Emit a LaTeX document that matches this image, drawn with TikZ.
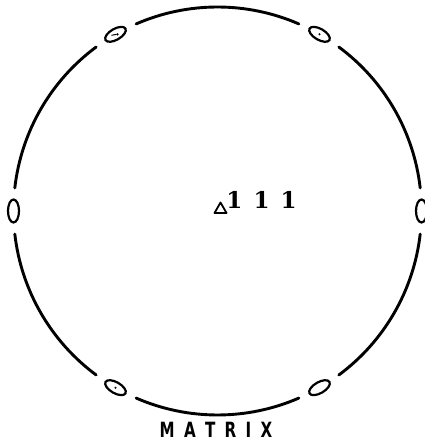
\documentclass[tikz,border=0pt]{standalone}
\usepackage{fontspec}
\newfontfamily\digfont{DejaVu Serif}
\newfontfamily\labfont{DejaVu Sans}
\begin{document}
\begin{tikzpicture}[x=1pt,y=1pt,
  ring/.style={line width=2.9pt,line cap=round},
  pole/.style={line width=2.2pt},
  dotin/.style={fill=black}]
\useasboundingbox (0,0) rectangle (424,447);
\coordinate (c) at (217.5,236);
\def\R{204}
% circle arcs with gaps
\foreach \a in {0,60,120,180,240,300}{
  \draw[ring] ([shift={(c)}] {\a+6.5}:\R) arc[start angle={\a+6.5}, end angle={\a+53.5}, radius=\R];
}
% small ellipses tangent to the circle
\foreach \a in {0,60,120,180,240,300}{
  \draw[pole] ([shift={(c)}] \a:\R) ellipse[x radius=11.5, y radius=5.5, rotate={\a+90}];
}
% dots inside some ellipses
\fill ([shift={(c)}] 60:\R) circle (1.1);
\fill ([shift={(c)}] 240:\R) circle (1.1);
\fill ([shift={(c)}] 120:\R) ++(2,0) circle (1.2);
\draw[line width=1pt] ([shift={(c)}] 120:\R) ++(-4,-1) -- ++(5,1);
% triangle
\draw[line width=1.8pt,line join=round] (214.5,234) -- (226.5,234) -- (220.5,244.5) -- cycle;
% label 111
\node[font=\digfont\bfseries\fontsize{23}{23}\selectfont, inner sep=0] (ones) at (261.5,247) {1\hspace{11pt}1\hspace{11pt}1};
% MATRIX
\node[font=\labfont\bfseries\fontsize{21}{21}\selectfont, inner sep=0, xscale=0.72] (matrix) at (216,17) {M\hspace{13pt}A\hspace{13pt}T\hspace{13pt}R\hspace{13pt}I\hspace{13pt}X};
\end{tikzpicture}
\end{document}
